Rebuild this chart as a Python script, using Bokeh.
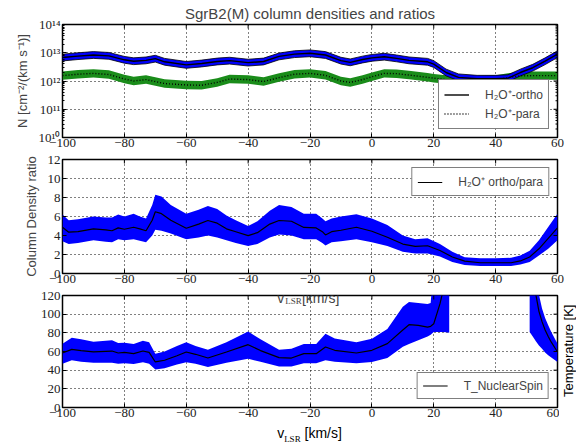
import math
from bokeh.plotting import figure
from bokeh.layouts import column, row
from bokeh.models import (Legend, LegendItem, Label, Range1d, Div,
                          SingleIntervalTicker, LogTicker, CustomJSTickFormatter)
from bokeh.embed import file_html
from bokeh.resources import INLINE

# ---------------- data ----------------
v_top = [-100, -95, -90, -85, -80, -77, -73, -70, -67, -60, -55, -50, -46, -40, -35, -30,
         -25, -20, -15, -10, -7, -3, 0, 4, 8, 12, 18, 20, 24, 28, 34, 40, 44, 48, 52, 56, 60]
ortho_log = [12.83, 12.88, 12.92, 12.89, 12.75, 12.70, 12.73, 12.79, 12.68, 12.57, 12.62,
             12.69, 12.72, 12.65, 12.69, 12.87, 12.95, 12.98, 12.92, 12.72, 12.66, 12.76,
             12.82, 12.86, 12.80, 12.73, 12.68, 12.60, 12.30, 12.13, 12.08, 12.08, 12.10,
             12.30, 12.47, 12.70, 12.95]
para_log = [12.19, 12.24, 12.27, 12.23, 12.07, 12.00, 12.05, 11.98, 11.91, 11.86, 11.85,
            11.95, 12.07, 12.05, 11.98, 12.12, 12.24, 12.27, 12.20, 12.00, 11.95, 12.05,
            12.15, 12.27, 12.26, 12.21, 12.13, 12.10, 12.05, 12.03, 12.03, 12.05, 12.12,
            12.18, 12.19, 12.19, 12.19]
ortho_err_dex = [0.12] * 37
para_err_dex = [0.15] * 37

v_mid = [-100, -98, -95, -90, -86, -84, -82, -80, -77, -75, -73, -71, -70, -68, -65, -60,
         -56, -53, -50, -47, -44, -40, -37, -33, -30, -26, -22, -18, -16, -15, -13, -10,
         -5, 0, 5, 10, 14, 18, 22, 26, 30, 35, 40, 45, 48, 51, 54, 57, 60]
ratio = [4.87, 4.35, 4.40, 4.70, 4.60, 4.50, 4.80, 4.66, 4.87, 4.70, 4.50, 5.60, 6.50,
         6.30, 5.60, 4.76, 5.20, 5.58, 5.30, 4.70, 4.40, 3.99, 4.30, 5.20, 5.58, 5.50,
         4.85, 4.80, 4.40, 4.06, 4.40, 4.55, 4.87, 4.45, 3.82, 3.10, 2.86, 2.92, 2.42,
         1.74, 1.30, 1.13, 1.13, 1.13, 1.32, 1.74, 2.60, 3.70, 4.80]
ratio_lo = [3.40, 3.10, 3.20, 3.50, 3.35, 3.30, 3.60, 3.50, 3.60, 3.45, 3.30, 4.00, 4.60,
            4.50, 4.20, 3.60, 3.80, 4.00, 3.80, 3.50, 3.20, 2.90, 3.10, 3.80, 4.10, 4.00,
            3.60, 3.60, 3.20, 2.95, 3.30, 3.40, 3.60, 3.30, 2.90, 2.30, 2.10, 2.10, 1.80,
            1.20, 0.90, 0.80, 0.80, 0.80, 0.95, 1.20, 1.90, 2.60, 3.50]
ratio_hi = [6.20, 5.60, 5.70, 6.00, 5.90, 5.90, 6.20, 6.00, 6.30, 6.00, 5.80, 7.20, 8.30,
            8.10, 7.20, 6.30, 6.70, 7.10, 6.80, 6.10, 5.60, 5.00, 5.50, 6.60, 7.20, 7.00,
            6.30, 6.30, 5.80, 5.50, 5.80, 6.00, 6.25, 5.80, 5.10, 4.00, 3.60, 3.70, 3.10,
            2.30, 1.70, 1.60, 1.60, 1.65, 1.90, 2.40, 3.50, 4.90, 6.30]

nan = float("nan")
v_T = [-100, -97, -94, -90, -84, -82, -80, -77, -74, -72, -70, -67, -63, -60, -57, -53,
       -47, -40, -36, -30, -26, -22, -18, -15, -12, -5, 0, 5, 10, 12, 15, 18, 19, 20, 22,
       23, 24, 25, 38, 51, 52, 53, 54, 55, 56, 57, 58, 60]
T_spin = [58.4, 62.3, 61.0, 59.5, 60.5, 58.4, 59.0, 57.7, 60.5, 59.0, 48.8, 50.6, 55.5,
          59.5, 57.0, 53.0, 59.5, 67.3, 61.0, 53.4, 53.0, 57.7, 57.7, 64.8, 61.3, 58.4,
          61.3, 68.4, 83.0, 88.7, 88.0, 86.2, 87.0, 89.7, 111.0, 125.0, 160.0, 220.0, nan,
          300.0, 170.0, 121.0, 103.0, 92.0, 83.0, 76.0, 70.0, 59.5]
T_lo = [47.0, 50.6, 49.0, 48.0, 48.0, 47.0, 47.5, 46.5, 48.5, 47.0, 40.6, 42.0, 46.0,
        48.5, 47.0, 43.5, 48.0, 52.3, 49.0, 44.0, 44.0, 47.5, 47.5, 50.6, 49.0, 47.5,
        48.8, 53.0, 65.0, 68.0, 72.0, 76.0, 78.0, 80.8, 81.0, 81.0, 80.5, 80.0, nan,
        80.8, 76.0, 71.0, 66.5, 63.0, 59.0, 56.0, 53.5, 48.8]
T_hi = [68.4, 74.8, 73.0, 70.5, 72.0, 69.0, 69.5, 68.0, 71.5, 70.0, 57.7, 60.0, 66.0,
        70.0, 66.0, 62.0, 70.0, 81.5, 73.0, 62.0, 63.0, 68.0, 68.0, 79.0, 74.0, 70.0,
        73.7, 84.0, 108.0, 113.0, 112.0, 111.0, 112.0, 150.0, 200.0, 200.0, 200.0, 200.0,
        nan, 200.0, 200.0, 200.0, 121.0, 106.0, 96.0, 88.0, 81.0, 68.4]

X_MIN, X_MAX, X_STEP = -100, 60, 20

# ---------------- styling helpers ----------------
SANS = "Liberation Sans"
SERIF = "Liberation Serif"
W = 583
L, R = 62, 26

x_fmt = CustomJSTickFormatter(code="return (tick < 0 ? '\\u2212' : '') + Math.abs(tick).toFixed(0);")
log_fmt = CustomJSTickFormatter(code="""
const s = {'0':'\\u2070','1':'\\u00b9','2':'\\u00b2','3':'\\u00b3','4':'\\u2074','5':'\\u2075',
           '6':'\\u2076','7':'\\u2077','8':'\\u2078','9':'\\u2079','-':'\\u207b'};
const e = Math.round(Math.log10(tick));
return '10' + String(e).split('').map(c => s[c]).join('');
""")


def style_axis(ax):
    ax.major_tick_in = 4
    ax.major_tick_out = 0
    ax.minor_tick_in = 2
    ax.minor_tick_out = 0
    ax.major_tick_line_color = "black"
    ax.minor_tick_line_color = "black"
    ax.axis_line_color = None
    ax.major_label_text_font = SERIF
    ax.major_label_text_font_size = "13px"
    ax.major_label_text_color = "#222222"
    ax.major_label_standoff = 2


def make_fig(w, h, y_range, top, bottom, right=R, log=False):
    p = figure(width=w, height=h, x_range=Range1d(X_MIN, X_MAX), y_range=y_range,
               y_axis_type="log" if log else "linear",
               output_backend="svg", toolbar_location=None,
               min_border_left=L, min_border_right=right,
               min_border_top=top, min_border_bottom=bottom)
    p.outline_line_color = "black"
    p.outline_line_width = 1.5
    p.outline_line_alpha = 1
    p.background_fill_color = "white"
    p.border_fill_color = "white"
    for g in (p.xgrid, p.ygrid):
        g.grid_line_color = "black"
        g.grid_line_dash = "1 3"
        g.grid_line_width = 1
    p.xaxis.ticker = SingleIntervalTicker(interval=X_STEP, num_minor_ticks=0)
    p.xaxis.formatter = x_fmt
    style_axis(p.xaxis[0])
    style_axis(p.yaxis[0])
    p.xaxis[0].major_label_standoff = 1
    return p


def edge_ticks(p, y_top, y_ticks=(), y_minor=()):
    """Inward tick marks on the top and right edges of the frame (half of each
    dash is clipped away by the frame)."""
    xt = list(range(X_MIN, X_MAX + 1, X_STEP))
    p.scatter(xt, [y_top] * len(xt), marker="dash", size=8, angle=math.pi / 2,
              line_color="black", line_width=1)
    if y_ticks:
        p.scatter([X_MAX] * len(y_ticks), list(y_ticks), marker="dash", size=8,
                  line_color="black", line_width=1)
    if y_minor:
        p.scatter([X_MAX] * len(y_minor), list(y_minor), marker="dash", size=4,
                  line_color="black", line_width=1)


def style_legend(leg, pad, lh):
    leg.border_line_color = "black"
    leg.border_line_width = 1
    leg.background_fill_alpha = 1
    leg.label_text_font = SANS
    leg.label_text_font_size = "12px"
    leg.glyph_width = 25
    leg.glyph_height = lh
    leg.label_height = lh
    leg.label_standoff = 16
    leg.padding = pad
    leg.spacing = 0
    leg.margin = 8


def segments(xs, *cols):
    segs, cur = [], []
    for i, x in enumerate(xs):
        vals = [c[i] for c in cols]
        if any(math.isnan(v) for v in vals):
            if cur:
                segs.append(cur)
            cur = []
        else:
            cur.append((x, *vals))
    if cur:
        segs.append(cur)
    return segs

# ---------------- panel 1: column densities ----------------
p1 = make_fig(W, 153, Range1d(1e10, 1e14), 24, 16, log=True)
p1.yaxis[0].formatter = log_fmt
p1.yaxis[0].ticker = LogTicker(num_minor_ticks=10)
p1.yaxis[0].axis_label = "N [cm\u207b\u00b2/(km s\u207b\u00b9)]"
p1.yaxis[0].axis_label_text_font = SANS
p1.yaxis[0].axis_label_text_font_size = "13px"
p1.yaxis[0].axis_label_text_font_style = "normal"
p1.yaxis[0].axis_label_standoff = 6
p1.title.text = "SgrB2(M) column densities and ratios"
p1.title.align = "center"
p1.title.text_font = SANS
p1.title.text_font_size = "15px"
p1.title.text_font_style = "normal"
p1.title.standoff = 5

ortho = [10 ** v for v in ortho_log]
ortho_lo = [10 ** (v - e) for v, e in zip(ortho_log, ortho_err_dex)]
ortho_hi = [10 ** (v + e) for v, e in zip(ortho_log, ortho_err_dex)]
para = [10 ** v for v in para_log]
para_lo = [10 ** (v - e) for v, e in zip(para_log, para_err_dex)]
para_hi = [10 ** (v + e) for v, e in zip(para_log, para_err_dex)]

p1.varea(x=v_top, y1=para_lo, y2=para_hi, fill_color="#1a8c1a", fill_alpha=1)
p1.varea(x=v_top, y1=ortho_lo, y2=ortho_hi, fill_color="#0000ff", fill_alpha=1)
p1.line(v_top, ortho_lo, line_color="black", line_width=0.8)
p1.line(v_top, ortho_hi, line_color="black", line_width=0.8)
r_o = p1.line(v_top, ortho, line_color="black", line_width=1.4)
r_p = p1.line(v_top, para, line_color="black", line_width=1.4, line_dash="1 2")
decades = [1e10, 1e11, 1e12, 1e13, 1e14]
minors = [m * d for d in decades[:-1] for m in range(2, 10)]
edge_ticks(p1, 1e14, decades, minors)
leg1 = Legend(items=[LegendItem(label="H\u2082O\u207a-ortho", renderers=[r_o]),
                     LegendItem(label="H\u2082O\u207a-para", renderers=[r_p])],
              location="bottom_right")
style_legend(leg1, 5, 19)
p1.add_layout(leg1)

# ---------------- panel 2: ratio ----------------
p2 = make_fig(W, 136, Range1d(0, 12), 6, 16)
p2.yaxis[0].ticker = SingleIntervalTicker(interval=2, num_minor_ticks=0)
p2.yaxis[0].axis_label = "Column Density ratio"
p2.yaxis[0].axis_label_text_font = SANS
p2.yaxis[0].axis_label_text_font_size = "13px"
p2.yaxis[0].axis_label_text_font_style = "normal"
p2.yaxis[0].axis_label_standoff = 6
p2.varea(x=v_mid, y1=ratio_lo, y2=ratio_hi, fill_color="#0000ff", fill_alpha=1)
r_r = p2.line(v_mid, ratio, line_color="black", line_width=1.2)
edge_ticks(p2, 12, list(range(0, 13, 2)))
leg2 = Legend(items=[LegendItem(label="H\u2082O\u207a ortho/para", renderers=[r_r])],
              location="top_right")
style_legend(leg2, 5, 16)
p2.add_layout(leg2)

# ---------------- panel 3: temperature ----------------
p3 = make_fig(559, 134, Range1d(0, 120), 6, 16, right=2)
p3.yaxis[0].ticker = SingleIntervalTicker(interval=20, num_minor_ticks=0)
for seg in segments(v_T, T_lo, T_hi):
    p3.varea(x=[s[0] for s in seg], y1=[s[1] for s in seg], y2=[s[2] for s in seg],
             fill_color="#0000ff", fill_alpha=1)
r_t = p3.line(v_T, T_spin, line_color="black", line_width=1.2)
edge_ticks(p3, 120, list(range(0, 121, 20)))
leg3 = Legend(items=[LegendItem(label="T_NuclearSpin", renderers=[r_t])],
              location="bottom_right")
style_legend(leg3, 5, 15)
p3.add_layout(leg3)

# middle panel's x label "v_LSR [km/s]" sits over panel 3's top edge
for xx, yy, txt, fnt, fs in ((-30.6, 117.0, "v", SANS, "14px"),
                             (-28.0, 114.0, "LSR", SERIF, "9px"),
                             (-22.6, 117.0, "[km/s]", SANS, "14px")):
    p3.add_layout(Label(x=xx, y=yy, text=txt, text_font=fnt, text_font_size=fs,
                        text_baseline="middle", text_align="left"))

# right-hand axis title of panel 3
tlabel = Div(
    text=("<div style=\"writing-mode:vertical-rl;transform:rotate(180deg);height:112px;"
          "width:20px;margin-top:6px;text-align:center;line-height:20px;"
          "font-family:'Liberation Sans';font-size:13px;color:black;white-space:nowrap;\">"
          "Temperature [K]</div>"),
    width=W - 559, height=134, margin=0)

# bottom x label
xlabel = Div(
    text=("<div style=\"margin-left:62px;width:495px;text-align:center;"
          "font-family:'Liberation Sans';font-size:14px;line-height:16px;padding-top:2px;"
          "color:black;\">v<sub style=\"font-family:'Liberation Serif';font-size:9px;"
          "line-height:0;\">LSR</sub> [km/s]</div>"),
    width=W, height=23, margin=0)

layout = column(p1, p2, row(p3, tlabel, spacing=0), xlabel, spacing=0)
open("out.html", "w").write(file_html(layout, INLINE))
